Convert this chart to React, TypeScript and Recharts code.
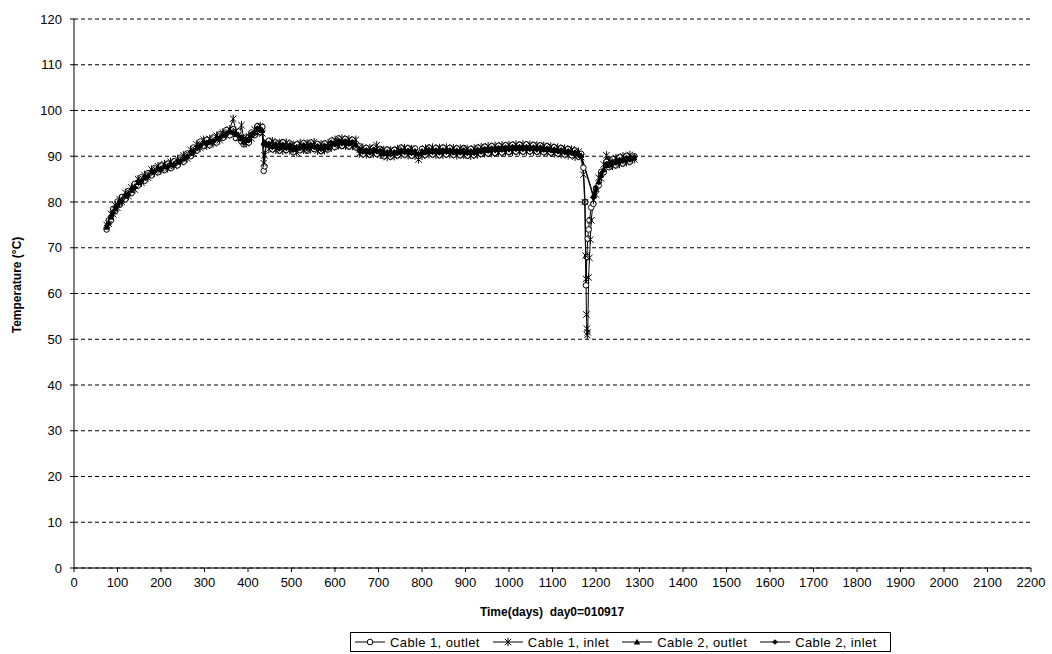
import { CartesianGrid, Line, LineChart, XAxis, YAxis } from "recharts";

// tick labels
const xTicks = [0, 100, 200, 300, 400, 500, 600, 700, 800, 900, 1000, 1100, 1200, 1300, 1400, 1500, 1600, 1700, 1800, 1900, 2000, 2100, 2200];
const yTicks = [0, 10, 20, 30, 40, 50, 60, 70, 80, 90, 100, 110, 120];

// warm-up part, shared sample days
const riseDays = [
  75, 80, 85, 90, 95, 100, 105, 110, 118, 125,
  132, 140, 147, 155, 162, 170, 178, 185, 193, 200,
  208, 215, 222, 230, 238, 245, 252, 260, 268, 275,
  282, 290, 298, 305, 312, 320, 328, 335, 342, 350,
  358, 366, 372, 378, 385, 390, 396, 402, 408, 415,
  422, 428, 433, 436, 438, 441,
];
const outletRise = [
  74.0, 76.0, 76.0, 78.5, 78.0, 80.1, 79.4, 81.1, 80.6, 82.4,
  81.9, 84.0, 83.6, 85.4, 84.6, 86.3, 85.8, 87.4, 86.5, 88.0,
  87.0, 88.4, 87.4, 88.9, 88.0, 89.7, 88.8, 90.6, 90.0, 91.9,
  91.2, 93.2, 92.2, 93.6, 92.4, 94.1, 93.0, 94.8, 94.0, 95.7,
  94.6, 95.9, 94.0, 95.4, 93.2, 92.6, 94.1, 93.0, 95.2, 94.6,
  96.6, 95.2, 96.4, 86.8, 87.8, 92.9,
];
const inletRise = [
  75.0, 75.2, 77.4, 77.3, 79.3, 78.7, 80.6, 80.0, 82.0, 81.3,
  83.2, 82.7, 85.0, 84.2, 85.9, 85.3, 87.1, 86.4, 87.8, 86.9,
  88.3, 87.4, 88.8, 87.9, 89.4, 88.7, 90.2, 89.5, 91.4, 90.6,
  92.6, 91.8, 93.6, 92.3, 93.8, 92.8, 94.5, 93.5, 95.2, 94.6,
  95.9, 98.2, 95.5, 94.0, 96.8, 93.9, 92.8, 94.4, 93.9, 95.9,
  95.2, 96.6, 95.0, 88.5, 90.2, 92.4,
];
const cable2OutletRise = [
  74.5, 75.6, 76.7, 77.9, 78.6, 79.4, 80.0, 80.5, 81.3, 81.9,
  82.6, 83.4, 84.3, 84.8, 85.3, 85.8, 86.5, 86.9, 87.2, 87.4,
  87.7, 87.9, 88.1, 88.4, 88.7, 89.2, 89.5, 90.1, 90.7, 91.3,
  91.9, 92.5, 92.9, 93.0, 93.1, 93.5, 93.8, 94.2, 94.6, 95.1,
  95.3, 95.4, 94.8, 94.7, 93.9, 93.2, 93.5, 93.7, 94.6, 95.2,
  95.9, 95.9, 95.7, 93.0, 92.8, 92.6,
];
const cable2InletRise = [
  74.8, 75.3, 77.0, 77.6, 78.9, 79.1, 80.3, 80.2, 81.6, 81.6,
  82.9, 83.1, 84.6, 84.5, 85.6, 85.5, 86.8, 86.6, 87.5, 87.1,
  88.0, 87.6, 88.4, 88.1, 89.0, 88.9, 89.8, 89.8, 91.0, 91.0,
  92.2, 92.2, 93.2, 92.7, 93.4, 93.2, 94.1, 93.9, 94.9, 94.8,
  95.6, 95.1, 95.1, 94.4, 94.2, 92.9, 93.8, 93.4, 94.9, 94.9,
  96.2, 95.6, 95.4, 92.8, 93.1, 92.3,
];

// steady part
const steadyDays = [
  448, 456, 464, 472, 480, 488, 496, 504, 512, 520,
  528, 536, 544, 552, 560, 568, 576, 584, 592, 600,
  608, 616, 624, 632, 640, 648, 656, 664, 672, 680,
  688, 696, 704, 712, 720, 728, 736, 744, 752, 760,
  768, 776, 784, 792, 800, 808, 816, 824, 832, 840,
  848, 856, 864, 872, 880, 888, 896, 904, 912, 920,
  928, 936, 944, 952, 960, 968, 976, 984, 992, 1000,
  1008, 1016, 1024, 1032, 1040, 1048, 1056, 1064, 1072, 1080,
  1088, 1096, 1104, 1112, 1120, 1128, 1136, 1144, 1152, 1160,
  1166,
];
const outletSteady = [
  93.4, 91.5, 93.0, 91.2, 93.1, 91.4, 92.8, 90.9, 92.6, 91.3,
  92.9, 91.2, 93.0, 91.6, 92.7, 91.1, 92.8, 91.5, 93.4, 92.0,
  93.9, 92.2, 93.8, 92.1, 93.6, 91.9, 92.2, 90.4, 91.8, 90.3,
  91.9, 90.5, 91.6, 90.0, 91.5, 89.9, 91.4, 90.2, 91.9, 90.4,
  91.8, 90.1, 91.7, 90.0, 91.6, 90.3, 91.9, 90.4, 91.8, 90.2,
  91.9, 90.4, 91.8, 90.3, 91.7, 90.2, 91.8, 90.1, 91.6, 90.2,
  91.9, 90.5, 92.1, 90.6, 92.2, 90.7, 92.3, 90.8, 92.4, 90.9,
  92.5, 91.0, 92.5, 91.0, 92.6, 91.1, 92.5, 91.0, 92.4, 90.9,
  92.2, 90.8, 92.0, 90.6, 91.8, 90.4, 91.6, 90.2, 91.3, 89.9,
  90.5,
];
const inletSteady = [
  91.6, 93.3, 91.4, 92.9, 91.2, 93.0, 91.3, 92.5, 90.8, 92.9,
  91.4, 92.8, 91.5, 93.1, 91.2, 92.6, 91.3, 92.9, 91.9, 93.6,
  92.4, 93.9, 92.3, 93.7, 92.2, 93.6, 90.6, 91.9, 90.4, 91.8,
  90.5, 92.4, 90.3, 91.4, 89.8, 91.3, 90.0, 91.6, 90.3, 91.8,
  90.2, 91.6, 90.1, 89.3, 90.1, 91.7, 90.4, 91.9, 90.3, 91.8,
  90.3, 91.9, 90.4, 91.8, 90.2, 91.7, 90.3, 91.6, 90.1, 91.7,
  90.4, 92.0, 90.6, 92.2, 90.7, 92.3, 90.8, 92.4, 90.9, 92.5,
  91.0, 92.6, 91.1, 92.6, 91.0, 92.5, 91.0, 92.4, 90.9, 92.3,
  90.8, 92.1, 90.6, 91.9, 90.4, 91.7, 90.2, 91.5, 89.9, 91.0,
  89.8,
];
const cable2OutletSteady = [
  92.6, 92.2, 92.4, 91.9, 92.3, 92.0, 92.2, 91.6, 91.8, 92.0,
  92.2, 91.9, 92.3, 92.2, 92.0, 91.8, 92.1, 92.0, 92.7, 92.8,
  93.2, 93.0, 93.1, 92.9, 92.9, 92.6, 91.4, 91.2, 91.1, 91.0,
  91.2, 91.3, 91.0, 90.7, 90.7, 90.6, 90.7, 90.9, 91.1, 91.1,
  91.0, 90.9, 90.9, 90.6, 90.9, 91.0, 91.2, 91.1, 91.1, 91.0,
  91.1, 91.2, 91.1, 91.0, 91.0, 91.0, 91.1, 90.9, 90.9, 90.9,
  91.2, 91.2, 91.4, 91.4, 91.5, 91.5, 91.6, 91.6, 91.7, 91.7,
  91.8, 91.8, 91.8, 91.8, 91.8, 91.8, 91.7, 91.7, 91.7, 91.6,
  91.5, 91.5, 91.3, 91.3, 91.1, 91.1, 90.9, 90.9, 90.6, 90.5,
  90.2,
];
const cable2InletSteady = [
  92.9, 91.9, 92.7, 91.6, 92.6, 91.7, 92.5, 91.3, 92.1, 91.7,
  92.5, 91.6, 92.6, 91.9, 92.3, 91.5, 92.4, 91.7, 93.0, 92.5,
  93.5, 92.7, 93.4, 92.6, 93.2, 92.3, 91.7, 90.9, 91.4, 90.7,
  91.5, 91.0, 91.3, 90.4, 91.0, 90.3, 91.0, 90.6, 91.4, 90.8,
  91.3, 90.6, 91.2, 90.3, 91.2, 90.7, 91.5, 90.8, 91.4, 90.7,
  91.4, 90.9, 91.4, 90.7, 91.3, 90.7, 91.4, 90.6, 91.2, 90.6,
  91.5, 90.9, 91.7, 91.1, 91.8, 91.2, 91.9, 91.3, 92.0, 91.4,
  92.1, 91.5, 92.1, 91.5, 92.1, 91.5, 92.0, 91.4, 92.0, 91.3,
  91.8, 91.2, 91.6, 91.0, 91.4, 90.8, 91.2, 90.6, 90.9, 90.2,
  90.0,
];

// the dip around day 1175 (cable 1 only)
const outletDipDays = [1171, 1175, 1177, 1179, 1181, 1183, 1185, 1189];
const outletDip = [87.5, 80.0, 61.8, 68.0, 72.0, 74.0, 76.0, 78.8];
const inletDipDays = [1171, 1174, 1176, 1177, 1178, 1179, 1180, 1181, 1183, 1185, 1187, 1189];
const inletDip = [86.0, 80.0, 68.3, 63.2, 55.4, 52.3, 50.9, 51.5, 63.5, 67.8, 71.8, 76.0];

// recovery after the dip
const recoveryDays = [1194, 1200, 1206, 1212, 1218, 1224, 1230, 1238, 1246, 1254, 1262, 1270, 1278, 1288];
const outletRecovery = [79.6, 83.0, 83.6, 86.6, 86.5, 88.8, 87.6, 89.4, 88.0, 89.8, 88.4, 90.1, 88.8, 90.0];
const inletRecovery = [80.4, 81.6, 85.3, 85.1, 88.2, 90.2, 89.1, 87.9, 89.6, 88.3, 90.0, 88.7, 90.3, 89.3];
const cable2OutletRecovery = [81.5, 82.8, 84.5, 85.9, 87.2, 88.0, 88.3, 88.6, 88.8, 89.0, 89.2, 89.4, 89.5, 89.7];
const cable2InletRecovery = [81.0, 83.2, 84.2, 86.3, 86.9, 88.4, 88.0, 88.9, 88.5, 89.3, 88.9, 89.7, 89.2, 89.9];

type Point = { day: number; temp: number };

function toPoints(days: number[], temps: number[]): Point[] {
  return days.map((day, i) => ({ day, temp: temps[i] }));
}

const outletData = [
  ...toPoints(riseDays, outletRise),
  ...toPoints(steadyDays, outletSteady),
  ...toPoints(outletDipDays, outletDip),
  ...toPoints(recoveryDays, outletRecovery),
];
const inletData = [
  ...toPoints(riseDays, inletRise),
  ...toPoints(steadyDays, inletSteady),
  ...toPoints(inletDipDays, inletDip),
  ...toPoints(recoveryDays, inletRecovery),
];
const cable2OutletData = [
  ...toPoints(riseDays, cable2OutletRise),
  ...toPoints(steadyDays, cable2OutletSteady),
  ...toPoints(recoveryDays, cable2OutletRecovery),
];
const cable2InletData = [
  ...toPoints(riseDays, cable2InletRise),
  ...toPoints(steadyDays, cable2InletSteady),
  ...toPoints(recoveryDays, cable2InletRecovery),
];

const FONT = '"Liberation Sans", Arial, sans-serif';

type DotProps = { cx?: number; cy?: number; index?: number };

function CircleDot({ cx, cy, index }: DotProps) {
  if (cx == null || cy == null) return null;
  return <circle key={`c-${index}`} cx={cx} cy={cy} r={2.8} fill="#fff" stroke="#000" strokeWidth={1} />;
}

function StarDot({ cx, cy, index }: DotProps) {
  if (cx == null || cy == null) return null;
  const s = 3.2;
  return (
    <path
      key={`s-${index}`}
      d={`M${cx - s},${cy - s}L${cx + s},${cy + s}M${cx - s},${cy + s}L${cx + s},${cy - s}M${cx},${cy - s - 1}L${cx},${cy + s + 1}`}
      stroke="#000"
      strokeWidth={1}
      fill="none"
    />
  );
}

function TriangleDot({ cx, cy, index }: DotProps) {
  if (cx == null || cy == null) return null;
  return <path key={`t-${index}`} d={`M${cx},${cy - 3.2}L${cx + 3.2},${cy + 2.6}L${cx - 3.2},${cy + 2.6}Z`} fill="#000" />;
}

function DiamondDot({ cx, cy, index }: DotProps) {
  if (cx == null || cy == null) return null;
  return <path key={`d-${index}`} d={`M${cx},${cy - 2.8}L${cx + 2.8},${cy}L${cx},${cy + 2.8}L${cx - 2.8},${cy}Z`} fill="#000" />;
}

const legendItems = [
  { label: "Cable 1, outlet", marker: "circle" },
  { label: "Cable 1, inlet", marker: "star" },
  { label: "Cable 2, outlet", marker: "triangle" },
  { label: "Cable 2, inlet", marker: "diamond" },
];

function LegendIcon({ marker }: { marker: string }) {
  return (
    <svg width={30} height={10} style={{ marginRight: 5 }}>
      <line x1={0} y1={5} x2={30} y2={5} stroke="#000" strokeWidth={1} />
      {marker === "circle" && <CircleDot cx={15} cy={5} />}
      {marker === "star" && <StarDot cx={15} cy={5} />}
      {marker === "triangle" && <TriangleDot cx={15} cy={5} />}
      {marker === "diamond" && <DiamondDot cx={15} cy={5} />}
    </svg>
  );
}

export default function App() {
  return (
    <div style={{ position: "absolute", left: 0, top: 0, width: 1052, height: 654, background: "#fff", fontFamily: FONT }}>
      <LineChart width={1052} height={654} margin={{ top: 19, right: 21, bottom: 46, left: 0 }}>
        <CartesianGrid horizontal vertical={false} stroke="#000" strokeDasharray="4 3" />
        <XAxis
          dataKey="day"
          type="number"
          domain={[0, 2200]}
          ticks={xTicks}
          interval={0}
          allowDataOverflow
          height={40}
          axisLine={{ stroke: "#000" }}
          tickLine={{ stroke: "#000" }}
          tickSize={4}
          tickMargin={6}
          tick={{ fill: "#000", fontSize: 13, fontFamily: FONT }}
        />
        <XAxis xAxisId="top" orientation="top" type="number" domain={[0, 2200]} height={0} tick={false} tickLine={false} axisLine={{ stroke: "#000" }} />
        <YAxis
          type="number"
          domain={[0, 120]}
          ticks={yTicks}
          interval={0}
          width={74}
          axisLine={{ stroke: "#000" }}
          tickLine={{ stroke: "#000" }}
          tickSize={4}
          tickMargin={8}
          tick={{ fill: "#000", fontSize: 13, fontFamily: FONT }}
        />
        <YAxis yAxisId="right" orientation="right" domain={[0, 120]} width={0} tick={false} tickLine={false} axisLine={{ stroke: "#000" }} />
        <Line data={outletData} dataKey="temp" name="Cable 1, outlet" stroke="#000" strokeWidth={1} dot={<CircleDot />} isAnimationActive={false} />
        <Line data={inletData} dataKey="temp" name="Cable 1, inlet" stroke="#000" strokeWidth={1} dot={<StarDot />} isAnimationActive={false} />
        <Line data={cable2OutletData} dataKey="temp" name="Cable 2, outlet" stroke="#000" strokeWidth={1} dot={<TriangleDot />} isAnimationActive={false} />
        <Line data={cable2InletData} dataKey="temp" name="Cable 2, inlet" stroke="#000" strokeWidth={1} dot={<DiamondDot />} isAnimationActive={false} />
      </LineChart>

      <div
        style={{
          position: "absolute",
          left: 17,
          top: 285,
          transform: "translate(-50%, -50%) rotate(-90deg)",
          fontSize: 12,
          fontWeight: "bold",
          whiteSpace: "nowrap",
          color: "#000",
        }}
      >
        Temperature (°C)
      </div>
      <div
        style={{
          position: "absolute",
          left: 552,
          top: 612,
          transform: "translate(-50%, -50%)",
          fontSize: 12,
          fontWeight: "bold",
          whiteSpace: "pre",
          color: "#000",
        }}
      >
        {"Time(days)  day0=010917"}
      </div>
      <div
        style={{
          position: "absolute",
          left: 350,
          top: 632,
          width: 541,
          height: 20,
          border: "1px solid #000",
          display: "flex",
          alignItems: "center",
          paddingLeft: 4,
          boxSizing: "border-box",
          fontSize: 13,
          color: "#000",
        }}
      >
        {legendItems.map((item) => (
          <div key={item.label} style={{ display: "flex", alignItems: "center", marginRight: 13 }}>
            <LegendIcon marker={item.marker} />
            <span style={{ letterSpacing: 0.4 }}>{item.label}</span>
          </div>
        ))}
      </div>
    </div>
  );
}
